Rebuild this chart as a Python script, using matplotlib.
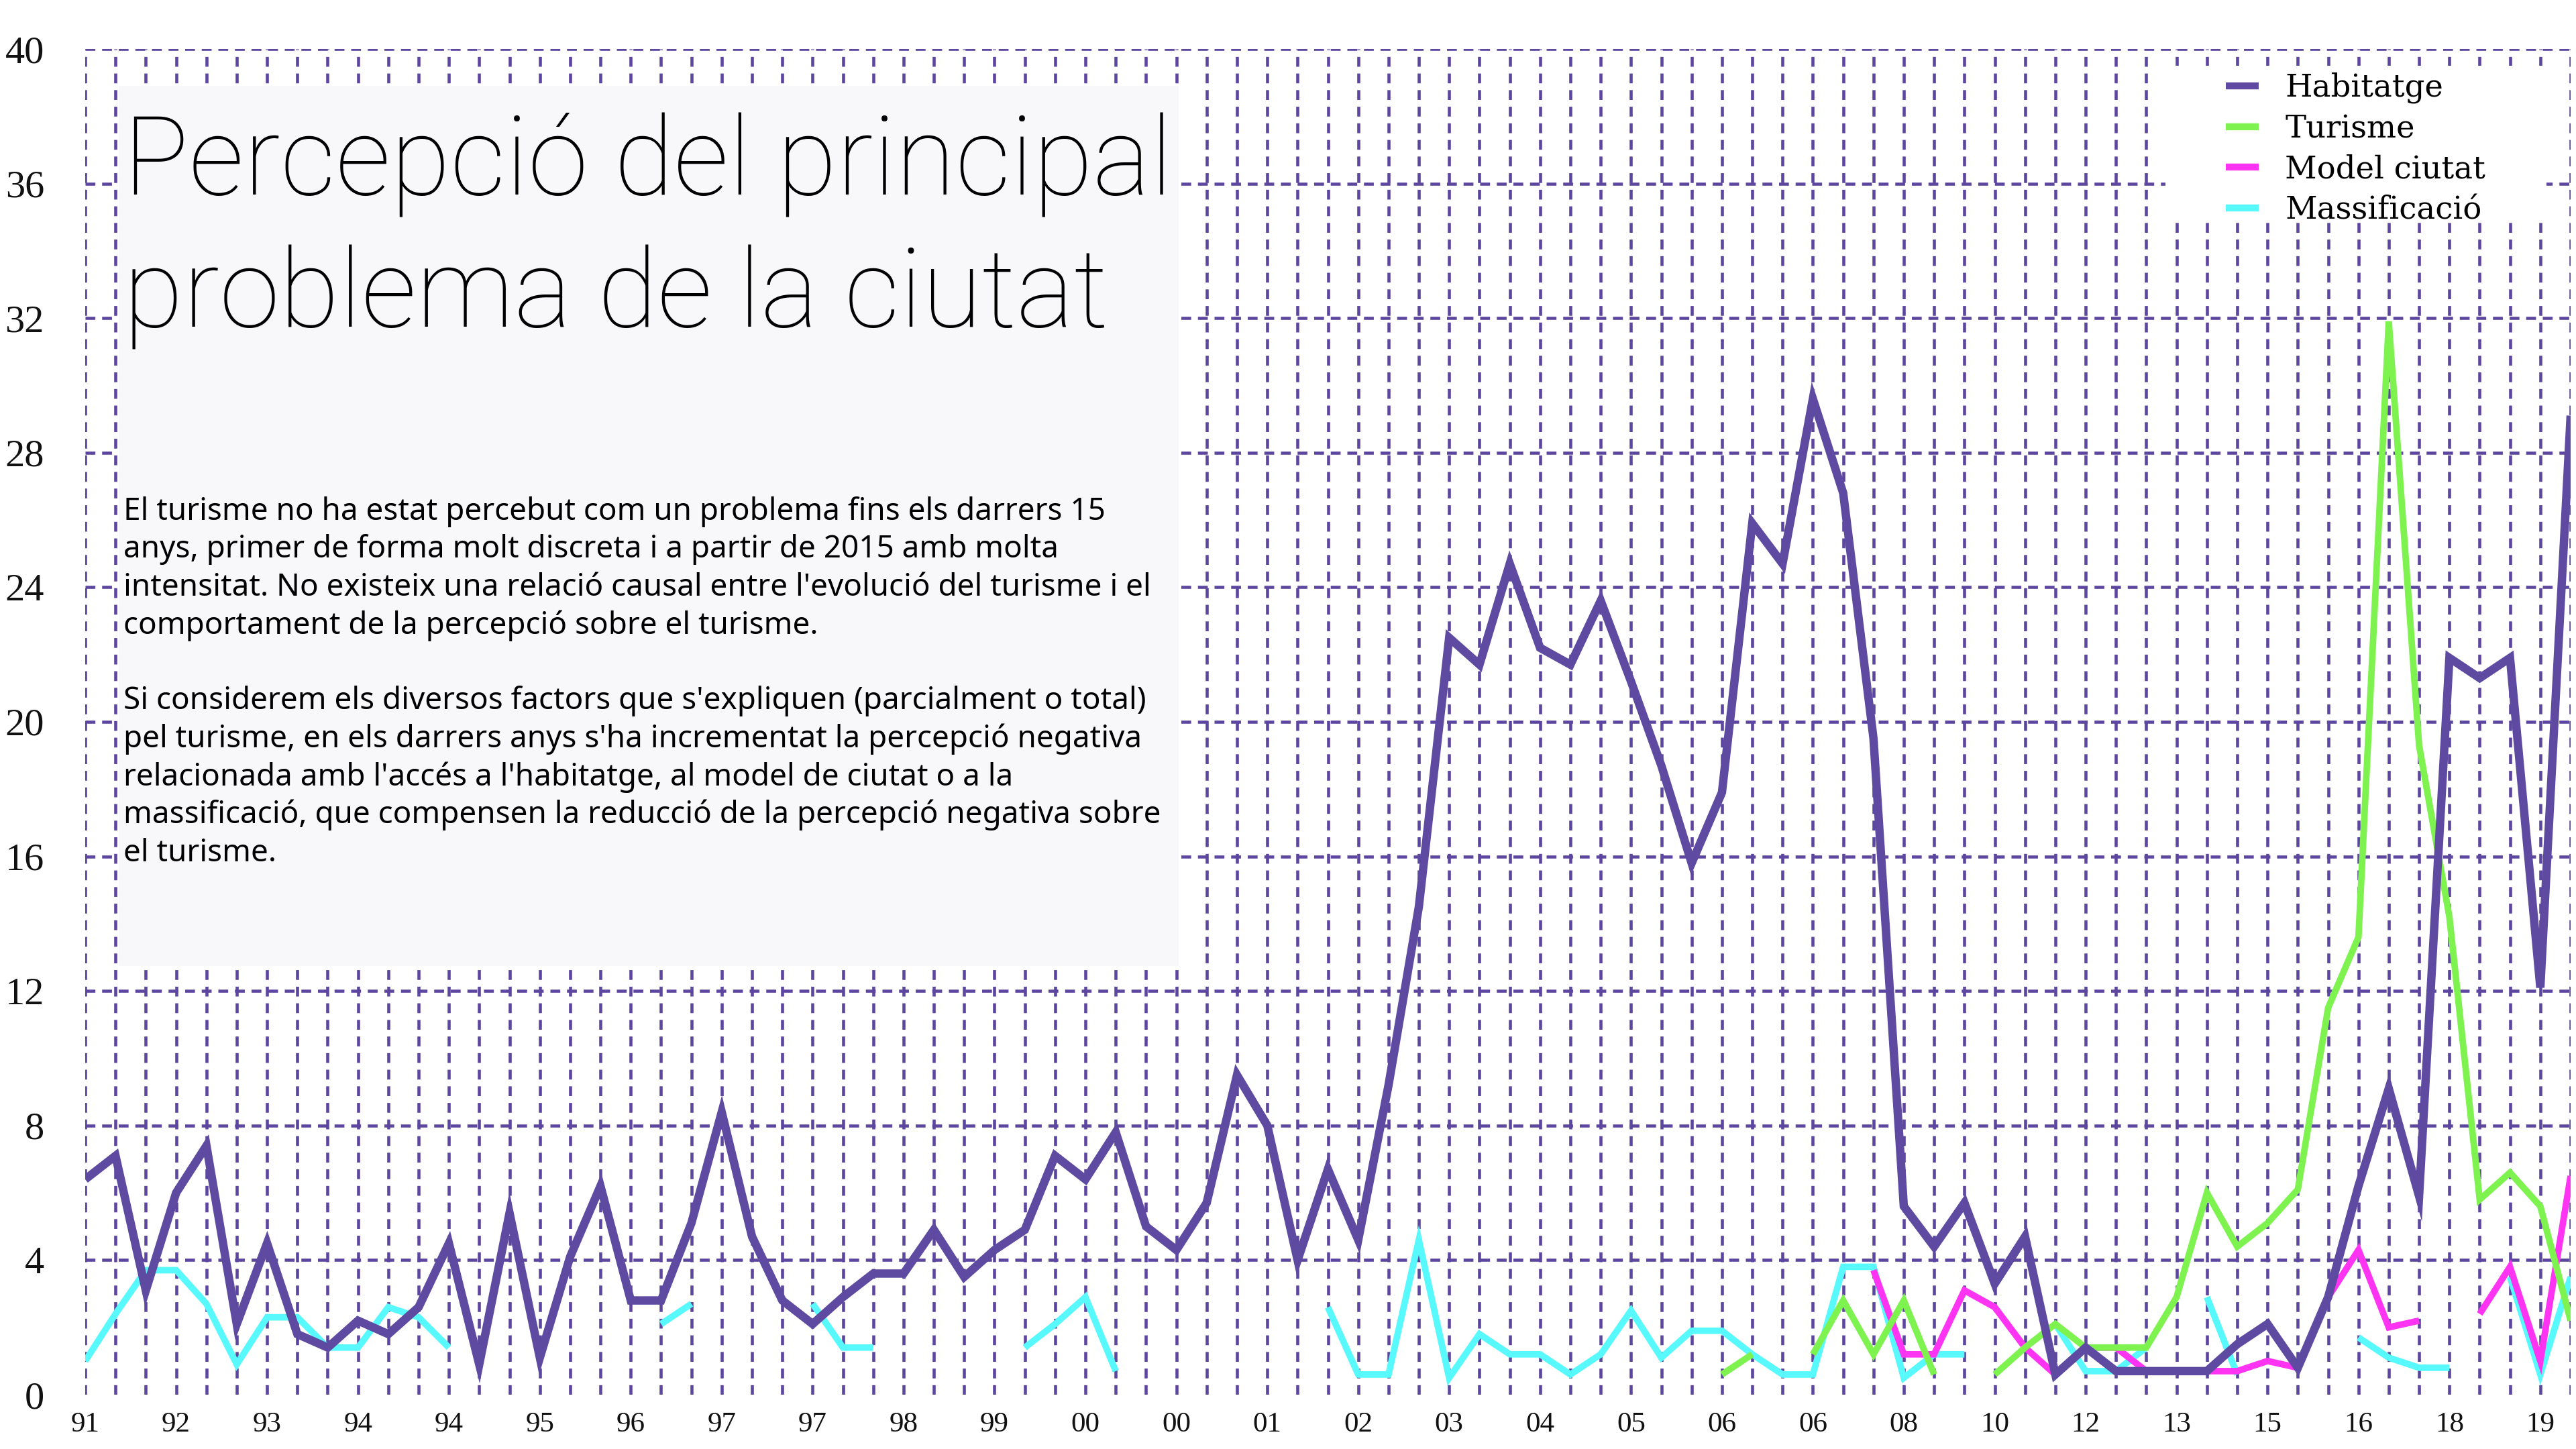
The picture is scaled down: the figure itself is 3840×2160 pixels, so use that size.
import numpy as np
import matplotlib
matplotlib.use("Agg")
import matplotlib.pyplot as plt
from matplotlib.patches import Rectangle

# Survey waves (one point per wave); a year label is shown every third wave
wave_labels = ['91', '92', '93', '94', '94', '95', '96', '97', '97', '98',
               '99', '00', '00', '01', '02', '03', '04', '05', '06', '06',
               '08', '10', '12', '13', '15', '16', '18', '19']

# % of respondents naming each issue as the city's main problem
habitatge = [6.4, 7.1, 3.1, 6.0, 7.4, 2.1, 4.5, 1.8, 1.4, 2.2,
             1.8, 2.6, 4.5, 0.9, 5.4, 1.1, 4.1, 6.2, 2.8, 2.8,
             5.1, 8.4, 4.7, 2.8, 2.1, 2.9, 3.6, 3.6, 4.9, 3.5,
             4.3, 4.9, 7.1, 6.4, 7.8, 5.0, 4.3, 5.7, 9.5, 8.0,
             4.0, 6.7, 4.6, 9.2, 14.5, 22.5, 21.7, 24.7, 22.2, 21.7,
             23.6, 21.2, 18.7, 15.8, 17.9, 25.9, 24.7, 29.6, 26.8, 19.5,
             5.6, 4.4, 5.7, 3.3, 4.7, 0.6, 1.4, 0.7, 0.7, 0.7,
             0.7, 1.5, 2.1, 0.8, 2.9, 6.2, 9.1, 5.9, 21.9, 21.3,
             21.9, 12.1, 29.1]

turisme = [None] * 54 + [0.6, 1.2, None, 1.2, 2.8, 1.2, 2.8, 0.6, None, 0.6,
                         1.4, 2.1, 1.4, 1.4, 1.4, 2.9, 6.0, 4.4, 5.1, 6.1,
                         11.5, 13.6, 31.9, 19.3, 14.2, 5.8, 6.6, 5.6, 2.2]

model_ciutat = [None] * 59 + [3.7, 1.2, 1.2, 3.1, 2.6, 1.4, 0.6, 1.4, 1.4, 0.7,
                              0.7, 0.7, 0.7, 1.0, 0.8, 2.9, 4.3, 2.0, 2.2, None,
                              2.4, 3.8, 1.0, 6.5]

massificacio = [1.0, 2.4, 3.7, 3.7, 2.7, 0.9, 2.3, 2.3, 1.4, 1.4,
                2.6, 2.3, 1.4, None, None, None, None, None, None, 2.1,
                2.7, None, None, None, 2.7, 1.4, 1.4, None, None, None,
                None, 1.4, 2.1, 2.9, 0.7, None, None, None, None, None,
                None, 2.6, 0.6, 0.6, 4.6, 0.5, 1.8, 1.2, 1.2, 0.6,
                1.2, 2.5, 1.1, 1.9, 1.9, 1.2, 0.6, 0.6, 3.8, 3.8,
                0.5, 1.2, 1.2, None, None, 2.1, 0.7, 0.7, 1.4, None,
                2.9, 0.6, None, None, None, 1.7, 1.1, 0.8, 0.8, None,
                3.5, 0.6, 3.5]

y_ticks = list(range(0, 41, 4))

title_lines = ["Percepció del principal", "problema de la ciutat"]
body_lines = [
    "El turisme no ha estat percebut com un problema fins els darrers 15",
    "anys, primer de forma molt discreta i a partir de 2015 amb molta",
    "intensitat. No existeix una relació causal entre l'evolució del turisme i el",
    "comportament de la percepció sobre el turisme.",
    "",
    "Si considerem els diversos factors que s'expliquen (parcialment o total)",
    "pel turisme, en els darrers anys s'ha incrementat la percepció negativa",
    "relacionada amb l'accés a l'habitatge, al model de ciutat o a la",
    "massificació, que compensen la reducció de la percepció negativa sobre",
    "el turisme.",
]

GRID = '#5c469f'
C_HAB = '#5e4aa0'
C_TUR = '#7ef24e'
C_MOD = '#ff33f2'
C_MAS = '#58f9fc'

W, H = 3840, 2160
fig = plt.figure(figsize=(W / 100, H / 100), dpi=100)
fig.patch.set_facecolor('white')

ax = fig.add_axes([127 / W, 1 - 2079 / H, (3832 - 127) / W, (2079 - 73) / H])
ax.set_facecolor('white')
for s in ax.spines.values():
    s.set_visible(False)

n = len(habitatge)
x = np.arange(n)

# dashed grid: a vertical line at every wave, horizontal every 4 points
grid_dash = (0, (3.2, 2.2))
ax.set_xlim(0, n - 1)
ax.set_ylim(0, 40)
ax.set_xticks(np.arange(0, n, 3))
ax.set_xticklabels(wave_labels)
ax.set_xticks(x, minor=True)
ax.grid(which='both', axis='x', color=GRID, linewidth=3.3,
        linestyle=grid_dash, zorder=0)
ax.hlines(y_ticks[1:], 0, n - 1, colors=GRID, linewidth=3.3,
          linestyles=[grid_dash], zorder=0.5)
ax.set_yticks(y_ticks)
ax.set_axisbelow(True)
ax.tick_params(which='both', length=0)
ax.tick_params(axis='y', pad=44, labelsize=42)
ax.tick_params(axis='x', pad=18, labelsize=31)
for lab in ax.get_xticklabels() + ax.get_yticklabels():
    lab.set_fontfamily('Liberation Serif')
    lab.set_color('#111111')

def series(vals):
    return np.array([np.nan if v is None else v for v in vals], dtype=float)

line_kw = dict(solid_joinstyle='miter', solid_capstyle='butt')
l_mas, = ax.plot(x, series(massificacio), color=C_MAS, lw=7.0, zorder=2, **line_kw)
l_mod, = ax.plot(x, series(model_ciutat), color=C_MOD, lw=7.0, zorder=3, **line_kw)
l_tur, = ax.plot(x, series(turisme), color=C_TUR, lw=7.0, zorder=4, **line_kw)
l_hab, = ax.plot(x, series(habitatge), color=C_HAB, lw=9.0, zorder=5, **line_kw)

# panel behind the title and commentary
fig.add_artist(Rectangle((177 / W, 1 - 1440 / H), (1757 - 177) / W, (1440 - 128) / H,
                         transform=fig.transFigure, facecolor='#f8f8fa',
                         edgecolor='none', zorder=1))
# white backing for the legend
fig.add_artist(Rectangle((3228 / W, 1 - 331 / H), (3796 - 3228) / W, (331 - 98) / H,
                         transform=fig.transFigure, facecolor='white',
                         edgecolor='none', zorder=1))

for i, t in enumerate(title_lines):
    fig.text(184 / W, 1 - (290 + 198 * i) / H, t, fontsize=117,
             fontfamily='Roboto', fontweight='light', color='black',
             va='baseline', ha='left', zorder=3)

for i, t in enumerate(body_lines):
    if t:
        fig.text(184 / W, 1 - (775 + 56.5 * i) / H, t, fontsize=33,
                 fontfamily='Noto Sans', color='black',
                 va='baseline', ha='left', zorder=3)

leg = fig.legend([l_hab, l_tur, l_mod, l_mas],
                 ['Habitatge', 'Turisme', 'Model ciutat', 'Massificació'],
                 loc='upper left', bbox_to_anchor=(3318 / W, 1 - 108 / H),
                 frameon=False, prop={'family': 'DejaVu Serif', 'size': 33.5},
                 handlelength=1.05, handletextpad=0.85, labelspacing=0.33,
                 borderpad=0, borderaxespad=0)
leg.set_zorder(5)
for h in leg.get_lines():
    h.set_linewidth(7.5)

fig.savefig('out.png', dpi=100, facecolor='white')
